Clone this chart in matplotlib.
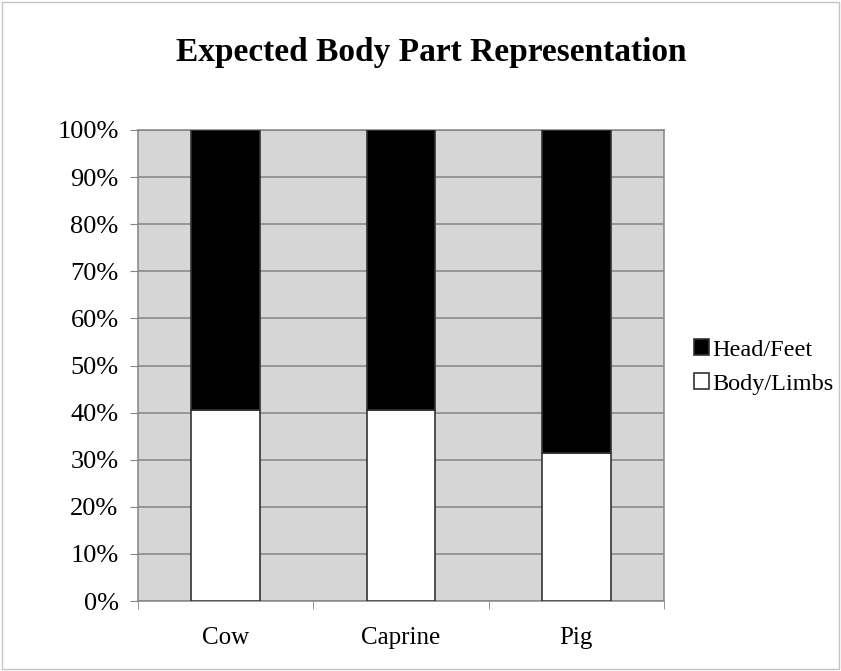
import matplotlib
matplotlib.use("Agg")
import matplotlib.pyplot as plt
from matplotlib.patches import Rectangle
from matplotlib.ticker import FixedLocator, PercentFormatter
import numpy as np

categories = ["Cow", "Caprine", "Pig"]
body_limbs = [40.5, 40.5, 31.4]
head_feet = [59.5, 59.5, 68.6]
y_ticks = list(range(0, 101, 10))

plt.rcParams["font.family"] = ["Liberation Serif", "DejaVu Serif"]

W, H = 841, 671
fig = plt.figure(figsize=(W / 100, H / 100), dpi=100)
fig.patch.set_facecolor("white")

# thin border around the whole chart
fig.add_artist(Rectangle((2 / W, 2 / H), (W - 4) / W, (H - 4) / H,
                         transform=fig.transFigure, fill=False,
                         edgecolor="#c4c4c4", linewidth=1.0))

left, right, top, bottom = 138, 664, 130, 601
ax = fig.add_axes([left / W, 1 - bottom / H, (right - left) / W, (bottom - top) / H])
ax.set_facecolor("#d6d6d6")

x = np.arange(len(categories))
width = 0.39
ax.bar(x, body_limbs, width, color="white", edgecolor="#333333",
       linewidth=1.2, label="Body/Limbs", zorder=3)
ax.bar(x, head_feet, width, bottom=body_limbs, color="black",
       edgecolor="#333333", linewidth=1.2, label="Head/Feet", zorder=3)

ax.set_xlim(-0.5, len(categories) - 0.5)
ax.set_ylim(0, 100)
ax.yaxis.set_major_locator(FixedLocator(y_ticks))
ax.yaxis.set_major_formatter(PercentFormatter(decimals=0))
ax.grid(axis="y", color="#858585", linewidth=1.1, zorder=1)
ax.set_axisbelow(True)

ax.set_xticks(x)
ax.set_xticklabels(categories)
ax.xaxis.set_minor_locator(FixedLocator(np.arange(-0.5, len(categories), 1.0)))
ax.tick_params(axis="x", which="major", length=0, pad=19, labelsize=18)
ax.tick_params(axis="x", which="minor", length=6, color="#858585", direction="out")
ax.tick_params(axis="y", length=6, color="#858585", direction="out",
               labelsize=19, pad=8)

for s in ax.spines.values():
    s.set_color("#858585")
    s.set_linewidth(1.1)

fig.text(431 / W, 1 - 52 / H, "Expected Body Part Representation",
         ha="center", va="center", fontsize=24, fontweight="bold")

handles, labels = ax.get_legend_handles_labels()
leg = fig.legend(handles[::-1], labels[::-1], loc="center left",
                 bbox_to_anchor=(672 / W, 1 - 367 / H), frameon=False,
                 fontsize=17.5, handlelength=0.62, handleheight=0.62,
                 handletextpad=0.15, labelspacing=0.5)

fig.savefig("out.png", dpi=100, facecolor="white")
